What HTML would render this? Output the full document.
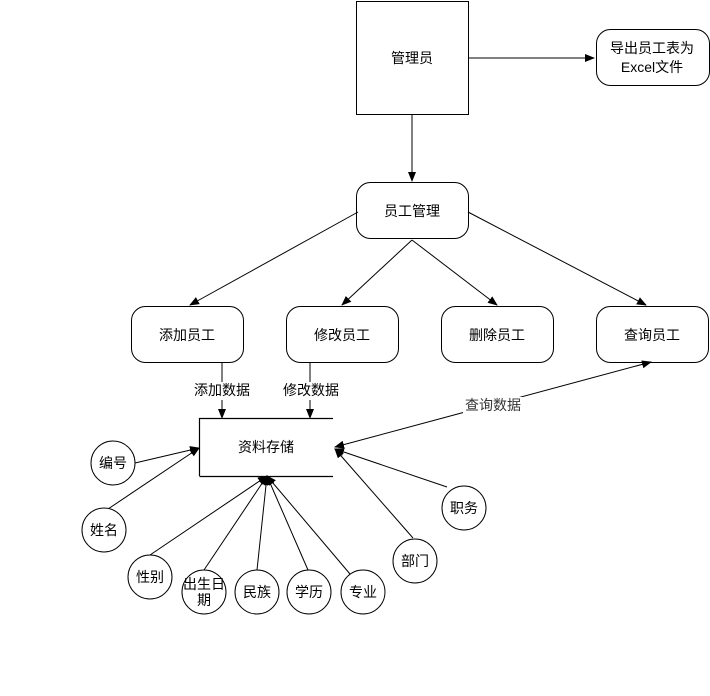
<!DOCTYPE html>
<html><head><meta charset="utf-8"><style>
body{margin:0;background:#fff}
svg text{font-family:"Liberation Sans","Noto Sans CJK SC",sans-serif;font-size:14px;fill:#000}
</style></head><body>
<svg width="710" height="691" viewBox="0 0 710 691" xmlns="http://www.w3.org/2000/svg">
<defs><marker id="a" markerWidth="10" markerHeight="8" refX="9" refY="4" orient="auto" markerUnits="userSpaceOnUse"><path d="M0,0L10,4L0,8z" fill="#000"/></marker>
<marker id="s" markerWidth="10" markerHeight="8" refX="1" refY="4" orient="auto" markerUnits="userSpaceOnUse"><path d="M10,0L0,4L10,8z" fill="#000"/></marker></defs>
<g fill="#fff" stroke="#000" stroke-width="1">
<rect x="356.5" y="1.5" width="112" height="113"/>
<rect x="596.5" y="29.5" width="113" height="56" rx="14"/>
<rect x="356.5" y="182.5" width="112" height="56" rx="14"/>
<rect x="131.5" y="306.5" width="112" height="56" rx="14"/>
<rect x="286.5" y="306.5" width="112" height="56" rx="14"/>
<rect x="441.5" y="306.5" width="112" height="56" rx="14"/>
<rect x="596.5" y="306.5" width="112" height="56" rx="14"/>
</g>
<g stroke="#000" stroke-width="1" fill="none">
<path d="M199.5,476V418.5H333M199.5,476.5H333" stroke-width="1.2"/>
<line x1="468" y1="58" x2="594" y2="58" marker-end="url(#a)"/>
<line x1="412" y1="115" x2="412" y2="181" marker-end="url(#a)"/>
<line x1="358" y1="212" x2="190" y2="305" marker-end="url(#a)"/>
<line x1="412" y1="240" x2="342" y2="305" marker-end="url(#a)"/>
<line x1="412" y1="240" x2="497" y2="305" marker-end="url(#a)"/>
<line x1="468" y1="212" x2="646" y2="305" marker-end="url(#a)"/>
<line x1="222" y1="400" x2="222" y2="418" marker-end="url(#a)"/>
<line x1="310" y1="400" x2="310" y2="418" marker-end="url(#a)"/>
<line x1="222" y1="362" x2="222" y2="382"/>
<line x1="310" y1="362" x2="310" y2="382"/>
<line x1="335" y1="447" x2="651" y2="362" marker-start="url(#s)" marker-end="url(#a)"/>
<line x1="135" y1="463" x2="199" y2="448" marker-end="url(#a)"/>
<line x1="108" y1="509" x2="199" y2="448" marker-end="url(#a)"/>
<line x1="150" y1="555" x2="267" y2="476" marker-end="url(#a)"/>
<line x1="204" y1="570" x2="267" y2="476" marker-end="url(#a)"/>
<line x1="257" y1="570" x2="267" y2="476" marker-end="url(#a)"/>
<line x1="308" y1="570" x2="267" y2="476" marker-end="url(#a)"/>
<line x1="350" y1="574" x2="267" y2="476" marker-end="url(#a)"/>
<line x1="413" y1="538" x2="335" y2="449" marker-end="url(#a)"/>
<line x1="447" y1="487" x2="335" y2="449" marker-end="url(#a)"/>
</g>
<g fill="#fff" stroke="#000">
<circle cx="113" cy="463" r="22"/><circle cx="104" cy="530" r="22"/>
<circle cx="150" cy="577" r="22"/><circle cx="204" cy="592" r="22"/>
<circle cx="257" cy="592" r="22"/><circle cx="309" cy="592" r="22"/>
<circle cx="363" cy="592" r="22"/><circle cx="415" cy="561" r="22"/>
<circle cx="464" cy="508" r="22"/>
</g>
<rect x="463" y="397" width="60" height="16" fill="#fff"/>
<g text-anchor="middle">
<text x="412" y="63">管理员</text>
<text x="652" y="53">导出员工表为</text>
<text x="652" y="72">Excel文件</text>
<text x="412" y="216">员工管理</text>
<text x="187" y="340">添加员工</text>
<text x="342" y="340">修改员工</text>
<text x="497" y="340">删除员工</text>
<text x="652" y="340">查询员工</text>
<text x="222" y="395" font-size="13">添加数据</text>
<text x="311" y="395" font-size="13">修改数据</text>
<text x="493" y="410" font-size="13" style="fill:#333">查询数据</text>
<text x="266" y="452">资料存储</text>
<text x="113" y="468" font-size="13">编号</text>
<text x="104" y="535" font-size="13">姓名</text>
<text x="150" y="582" font-size="13">性别</text>
<text x="204" y="589" font-size="13">出生日</text>
<text x="204" y="605" font-size="13">期</text>
<text x="257" y="597" font-size="13">民族</text>
<text x="309" y="597" font-size="13">学历</text>
<text x="363" y="597" font-size="13">专业</text>
<text x="415" y="566" font-size="13">部门</text>
<text x="464" y="513" font-size="13">职务</text>
</g>
</svg>
</body></html>
